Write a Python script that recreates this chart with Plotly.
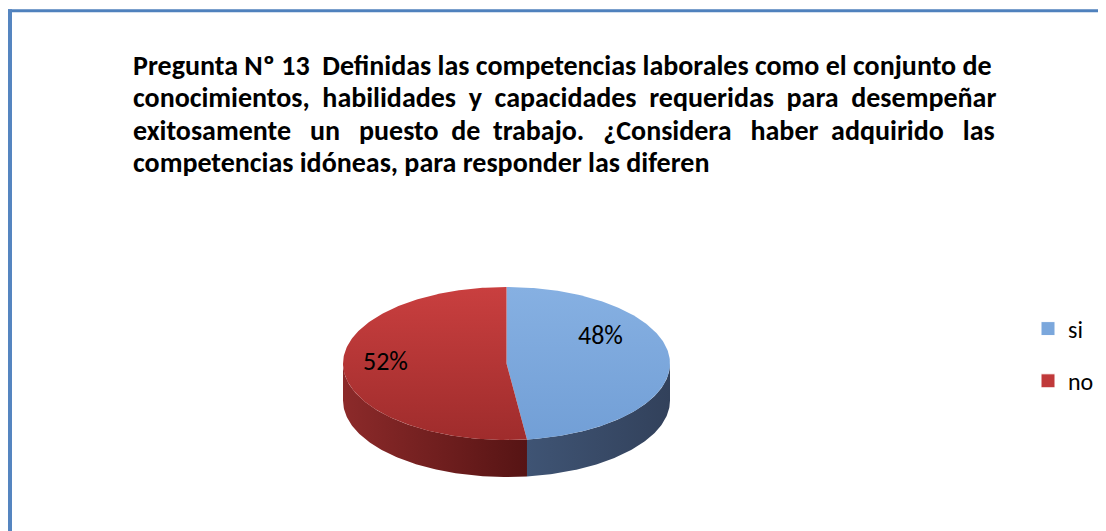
import numpy as np
import plotly.graph_objects as go

# ---- data ----
categories = ["si", "no"]
values = [48, 52]
title_lines = [
    "Pregunta Nº 13  Definidas las competencias laborales como el conjunto de",
    "conocimientos, habilidades y capacidades requeridas para desempeñar",
    "exitosamente un puesto de trabajo. ¿Considera haber adquirido las",
    "competencias idóneas, para responder las diferen",
]

# ---- styling / layout constants ----
W, H = 1106, 531
OFF = 8  # page body margin: shift axes so data units equal page pixels
CX, CY, A, B, DEPTH = 506.5, 363.5, 163.5, 76.5, 37
top_scales = {
    "si": [[0, "#729fd6"], [1, "#86b0e2"]],
    "no": [[0, "#9f2c2c"], [1, "#c93f3f"]],
}
side_scales = {
    "si": [[0, "#3f5474"], [1, "#32415b"]],
    "no": [[0, "#8c2a2a"], [1, "#561414"]],
}
legend_colors = {"si": "#7ba7dc", "no": "#c0393a"}
label_pos = {"si": (600, 335), "no": (385.5, 361)}
# extra spaces per word gap to imitate the justified title
justify_extra = [
    [],
    [1, 1, 1, 1, 1, 1],
    [2, 2, 1, 1, 2, 2, 1, 2],
    [],
]
FONT = "Carlito, Calibri, 'Open Sans', sans-serif"

total = float(sum(values))
fig = go.Figure()


def pt(theta_deg, dy=0.0):
    t = np.radians(theta_deg)
    return CX + A * np.sin(t), CY - B * np.cos(t) + dy


ranges = []
start = 0.0
for c, v in zip(categories, values):
    end = start + 360.0 * v / total
    ranges.append((c, start, end))
    start = end

# side walls (front half 90..270 deg clockwise from top)
for c, s, e in ranges:
    lo, hi = max(s, 90.0), min(e, 270.0)
    if hi <= lo:
        continue
    th = np.linspace(lo, hi, 120)
    xs_top, ys_top = pt(th)
    xs_bot, ys_bot = pt(th[::-1], DEPTH)
    xs = np.concatenate([xs_top, xs_bot, xs_top[:1]])
    ys = np.concatenate([ys_top, ys_bot, ys_top[:1]])
    fig.add_trace(go.Scatter(
        x=xs, y=ys, mode="lines", fill="toself",
        line=dict(width=0, color="rgba(0,0,0,0)"),
        fillgradient=dict(type="horizontal", colorscale=side_scales[c]),
        showlegend=False, hoverinfo="skip"))

# top faces
for c, s, e in ranges:
    th = np.linspace(s, e, 200)
    xs, ys = pt(th)
    xs = np.concatenate([[CX], xs, [CX]])
    ys = np.concatenate([[CY], ys, [CY]])
    fig.add_trace(go.Scatter(
        x=xs, y=ys, mode="lines", fill="toself",
        line=dict(width=0, color="rgba(0,0,0,0)"),
        fillgradient=dict(type="vertical", colorscale=top_scales[c]),
        showlegend=False, hoverinfo="skip"))

# percentage labels
for c, v in zip(categories, values):
    x, y = label_pos[c]
    fig.add_annotation(x=x, y=y, xref="x", yref="y", text=f"{round(100 * v / total)}%",
                       showarrow=False, font=dict(family=FONT, size=26, color="#000000"))

# legend entries
for c in categories:
    fig.add_trace(go.Scatter(
        x=[None], y=[None], mode="markers", name=c, legendgroup=c,
        marker=dict(symbol="square", size=14, color=legend_colors[c],
                    line=dict(width=1, color="#ffffff"))))

# title lines
for i, line in enumerate(title_lines):
    words = line.split(" ")
    extras = justify_extra[i]
    parts = []
    gi = 0
    for j, w in enumerate(words):
        parts.append(w)
        if j < len(words) - 1:
            n = extras[gi] if gi < len(extras) else 0
            parts.append("\u00a0" * (1 + n))
            gi += 1
    fig.add_annotation(x=131, y=65.5 + 32.3 * i, xref="x", yref="y", xanchor="left", yanchor="middle",
                       text="<b>" + "".join(parts) + "</b>", showarrow=False,
                       font=dict(family=FONT, size=28, color="#000000"))

# borders
fig.add_shape(type="line", xref="x", yref="y", x0=OFF, x1=W + OFF, y0=10.8, y1=10.8,
              line=dict(color="#4f81bd", width=3))
fig.add_shape(type="line", xref="x", yref="y", x0=10, x1=10, y0=9.3, y1=H + OFF,
              line=dict(color="#5585c0", width=4))

fig.update_layout(
    width=W, height=H, margin=dict(l=0, r=0, t=0, b=0),
    paper_bgcolor="#ffffff", plot_bgcolor="#ffffff",
    xaxis=dict(range=[OFF, W + OFF], visible=False, fixedrange=True),
    yaxis=dict(range=[H + OFF, OFF], visible=False, fixedrange=True),
    showlegend=True,
    legend=dict(x=(1028 - OFF) / W, y=1 - (306.5 - OFF) / H, xanchor="left", yanchor="top",
                font=dict(family=FONT, size=24, color="#000000"),
                tracegroupgap=18, bgcolor="rgba(0,0,0,0)"),
)

fig.write_html("out.html")
